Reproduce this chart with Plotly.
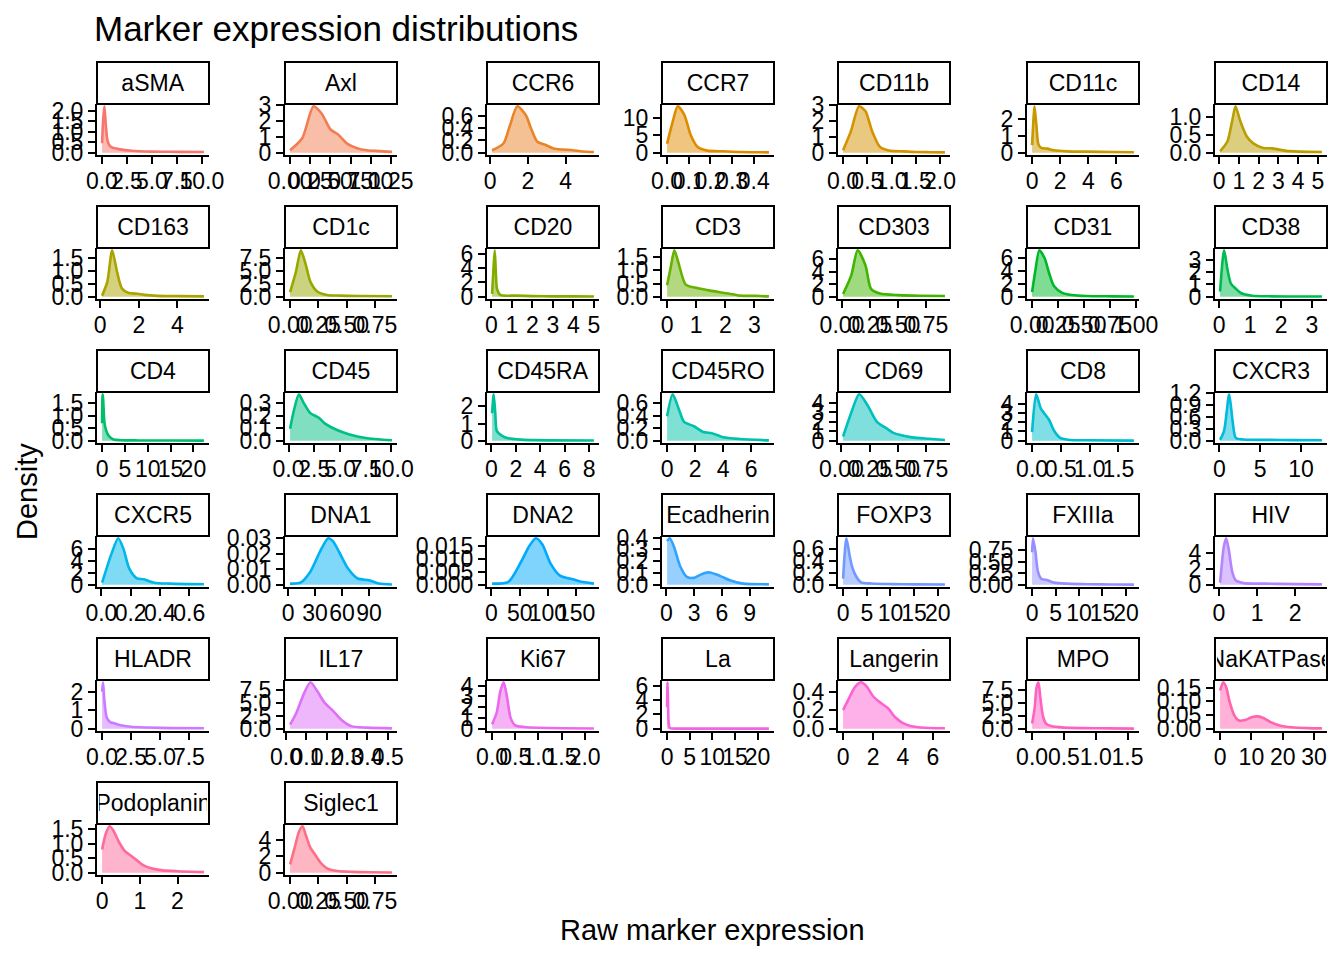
import math
import plotly.graph_objects as go

# ---------------- data ----------------
markers = ["aSMA", "Axl", "CCR6", "CCR7", "CD11b", "CD11c", "CD14",
           "CD163", "CD1c", "CD20", "CD3", "CD303", "CD31", "CD38",
           "CD4", "CD45", "CD45RA", "CD45RO", "CD69", "CD8", "CXCR3",
           "CXCR5", "DNA1", "DNA2", "Ecadherin", "FOXP3", "FXIIIa", "HIV",
           "HLADR", "IL17", "Ki67", "La", "Langerin", "MPO", "NaKATPase",
           "Podoplanin", "Siglec1"]

x_aSMA = [0.02, 0.12, 0.25, 0.38, 0.55, 0.75, 1.0, 1.7, 3.0, 5.0, 7.5, 10.2]
d_aSMA = [0.45, 1.5, 2.2, 1.4, 0.6, 0.35, 0.25, 0.17, 0.09, 0.05, 0.04, 0.03]
xt_aSMA = ["0.0", "2.5", "5.0", "7.5", "10.0"]
yt_aSMA = ["0.0", "0.5", "1.0", "1.5", "2.0"]

x_Axl = [0.0, 0.15, 0.29, 0.39, 0.5, 0.59, 0.71, 0.83, 0.95, 1.1, 1.26]
d_Axl = [0.15, 0.9, 2.9, 2.45, 1.45, 1.15, 0.55, 0.28, 0.15, 0.1, 0.05]
xt_Axl = ["0.00", "0.25", "0.50", "0.75", "1.00", "1.25"]
yt_Axl = ["0", "1", "2", "3"]

x_CCR6 = [0.1, 0.7, 1.04, 1.44, 1.9, 2.15, 2.5, 2.92, 3.35, 4.37, 4.9, 5.5]
d_CCR6 = [0.04, 0.15, 0.44, 0.76, 0.61, 0.41, 0.18, 0.13, 0.07, 0.04, 0.02, 0.01]
xt_CCR6 = ["0", "2", "4"]
yt_CCR6 = ["0.0", "0.2", "0.4", "0.6"]

x_CCR7 = [0.0, 0.026, 0.049, 0.079, 0.109, 0.14, 0.185, 0.26, 0.34, 0.47]
d_CCR7 = [2.6, 9.0, 13.4, 11.0, 5.1, 1.7, 0.6, 0.4, 0.2, 0.1]
xt_CCR7 = ["0.0", "0.1", "0.2", "0.3", "0.4"]
yt_CCR7 = ["0", "5", "10"]

x_CD11b = [0.0, 0.16, 0.33, 0.46, 0.6, 0.76, 0.92, 1.05, 1.25, 1.5, 1.8, 2.1]
d_CD11b = [0.15, 1.33, 2.9, 2.6, 1.33, 0.36, 0.15, 0.1, 0.08, 0.04, 0.03, 0.02]
xt_CD11b = ["0.0", "0.5", "1.0", "1.5", "2.0"]
yt_CD11b = ["0", "1", "2", "3"]

x_CD11c = [0.0, 0.1, 0.17, 0.3, 0.45, 0.65, 1.1, 1.56, 2.5, 3.9, 5.75, 7.25]
d_CD11c = [0.45, 2.0, 2.75, 1.7, 0.5, 0.28, 0.24, 0.14, 0.08, 0.06, 0.04, 0.03]
xt_CD11c = ["0", "2", "4", "6"]
yt_CD11c = ["0", "1", "2"]

x_CD14 = [0.05, 0.42, 0.66, 0.83, 1.07, 1.4, 1.73, 2.23, 2.7, 3.39, 4.05, 5.2]
d_CD14 = [0.04, 0.31, 0.88, 1.29, 0.88, 0.45, 0.26, 0.13, 0.12, 0.05, 0.03, 0.02]
xt_CD14 = ["0", "1", "2", "3", "4", "5"]
yt_CD14 = ["0.0", "0.5", "1.0"]

x_CD163 = [0.1, 0.37, 0.62, 0.87, 1.12, 1.45, 1.95, 2.28, 2.95, 3.95, 5.37]
d_CD163 = [0.04, 0.57, 1.79, 0.97, 0.33, 0.15, 0.11, 0.07, 0.03, 0.02, 0.01]
xt_CD163 = ["0", "2", "4"]
yt_CD163 = ["0.0", "0.5", "1.0", "1.5"]

x_CD1c = [0.0, 0.052, 0.095, 0.138, 0.18, 0.24, 0.325, 0.44, 0.61, 0.9]
d_CD1c = [0.86, 4.8, 8.9, 6.2, 2.85, 1.0, 0.33, 0.2, 0.13, 0.07]
xt_CD1c = ["0.00", "0.25", "0.50", "0.75"]
yt_CD1c = ["0.0", "2.5", "5.0", "7.5"]

x_CD20 = [0.03, 0.1, 0.16, 0.22, 0.27, 0.43, 1.2, 2.0, 3.0, 4.0, 5.0]
d_CD20 = [0.4, 4.0, 6.5, 3.0, 1.1, 0.24, 0.15, 0.08, 0.05, 0.04, 0.03]
xt_CD20 = ["0", "1", "2", "3", "4", "5"]
yt_CD20 = ["0", "2", "4", "6"]

x_CD3 = [0.0, 0.13, 0.25, 0.41, 0.64, 1.03, 1.48, 2.04, 2.5, 3.05, 3.5]
d_CD3 = [0.43, 1.15, 1.76, 1.21, 0.46, 0.33, 0.23, 0.13, 0.04, 0.03, 0.01]
xt_CD3 = ["0", "1", "2", "3"]
yt_CD3 = ["0.0", "0.5", "1.0", "1.5"]

x_CD303 = [0.01, 0.083, 0.14, 0.21, 0.26, 0.34, 0.51, 0.69, 0.92]
d_CD303 = [0.43, 3.4, 7.4, 5.0, 1.24, 0.5, 0.25, 0.15, 0.1]
xt_CD303 = ["0.00", "0.25", "0.50", "0.75"]
yt_CD303 = ["0", "2", "4", "6"]

x_CD31 = [0.0, 0.03, 0.07, 0.12, 0.165, 0.21, 0.29, 0.38, 0.52, 0.77, 0.98]
d_CD31 = [0.7, 3.9, 7.2, 6.0, 3.6, 1.65, 0.6, 0.27, 0.1, 0.05, 0.02]
xt_CD31 = ["0.00", "0.25", "0.50", "0.75", "1.00"]
yt_CD31 = ["0", "2", "4", "6"]

x_CD38 = [0.03, 0.16, 0.27, 0.38, 0.54, 0.7, 1.07, 1.6, 3.32]
d_CD38 = [0.42, 3.75, 2.17, 1.06, 0.64, 0.3, 0.08, 0.03, 0.01]
xt_CD38 = ["0", "1", "2", "3"]
yt_CD38 = ["0", "1", "2", "3"]

x_CD4 = [0.0, 0.1, 0.25, 0.5, 0.9, 1.5, 2.5, 4.0, 8.0, 15.0, 22.3]
d_CD4 = [0.7, 1.85, 1.6, 0.75, 0.4, 0.18, 0.05, 0.02, 0.01, 0.005, 0.002]
xt_CD4 = ["0", "5", "10", "15", "20"]
yt_CD4 = ["0.0", "0.5", "1.0", "1.5"]

x_CD45 = [0.15, 0.53, 1.01, 1.48, 2.12, 2.91, 3.55, 4.66, 5.93, 7.5, 10.05]
d_CD45 = [0.095, 0.245, 0.37, 0.3, 0.22, 0.185, 0.136, 0.087, 0.05, 0.022, 0.003]
xt_CD45 = ["0.0", "2.5", "5.0", "7.5", "10.0"]
yt_CD45 = ["0.0", "0.1", "0.2", "0.3"]

x_CD45RA = [0.06, 0.19, 0.32, 0.45, 0.85, 1.38, 2.44, 3.6, 8.4]
d_CD45RA = [1.6, 2.7, 1.6, 0.56, 0.3, 0.14, 0.06, 0.03, 0.01]
xt_CD45RA = ["0", "2", "4", "6", "8"]
yt_CD45RA = ["0", "1", "2"]

x_CD45RO = [0.0, 0.4, 0.86, 1.21, 1.91, 2.6, 3.2, 4.0, 5.17, 7.27]
d_CD45RO = [0.39, 0.74, 0.49, 0.3, 0.23, 0.137, 0.12, 0.055, 0.027, 0.005]
xt_CD45RO = ["0", "2", "4", "6"]
yt_CD45RO = ["0.0", "0.2", "0.4", "0.6"]

x_CD69 = [0.015, 0.086, 0.158, 0.23, 0.316, 0.414, 0.457, 0.63, 0.78, 0.92]
d_CD69 = [0.44, 2.9, 4.9, 3.8, 2.0, 1.2, 0.85, 0.35, 0.2, 0.07]
xt_CD69 = ["0.00", "0.25", "0.50", "0.75"]
yt_CD69 = ["0", "1", "2", "3", "4"]

x_CD8 = [0.0, 0.07, 0.15, 0.21, 0.3, 0.38, 0.49, 0.66, 0.95, 1.77]
d_CD8 = [0.93, 5.0, 3.5, 2.96, 2.2, 1.1, 0.3, 0.07, 0.04, 0.01]
xt_CD8 = ["0.0", "0.5", "1.0", "1.5"]
yt_CD8 = ["0", "1", "2", "3", "4"]

x_CXCR3 = [0.1, 0.6, 1.21, 1.62, 2.02, 3.0, 6.0, 9.0, 12.55]
d_CXCR3 = [0.02, 0.26, 1.16, 0.51, 0.07, 0.03, 0.02, 0.015, 0.01]
xt_CXCR3 = ["0", "5", "10"]
yt_CXCR3 = ["0.0", "0.3", "0.6", "0.9", "1.2"]

x_CXCR5 = [0.005, 0.07, 0.115, 0.15, 0.19, 0.24, 0.29, 0.36, 0.47, 0.7]
d_CXCR5 = [0.33, 5.2, 7.7, 6.0, 2.7, 1.1, 0.9, 0.33, 0.17, 0.06]
xt_CXCR5 = ["0.0", "0.2", "0.4", "0.6"]
yt_CXCR5 = ["0", "2", "4", "6"]

x_DNA1 = [2.2, 13.8, 24.7, 35.6, 44.6, 50.0, 57.3, 66.4, 77.3, 90.0, 100.9, 115.4]
d_DNA1 = [0.0007, 0.0013, 0.0084, 0.0216, 0.03, 0.028, 0.0205, 0.0106, 0.004, 0.0029, 0.0007, 0.0001]
xt_DNA1 = ["0", "30", "60", "90"]
yt_DNA1 = ["0.00", "0.01", "0.02", "0.03"]

x_DNA2 = [1.2, 29.9, 52.7, 67.0, 78.5, 89.9, 104.2, 121.3, 144.1, 155.6, 181.3]
d_DNA2 = [0.0004, 0.0011, 0.009, 0.015, 0.018, 0.0157, 0.0084, 0.0035, 0.0021, 0.0013, 0.0004]
xt_DNA2 = ["0", "50", "100", "150"]
yt_DNA2 = ["0.000", "0.005", "0.010", "0.015"]

x_Ecadherin = [0.07, 0.35, 0.78, 1.5, 2.2, 2.93, 4.0, 4.7, 5.8, 6.86, 8.3, 11.1]
d_Ecadherin = [0.37, 0.394, 0.33, 0.154, 0.067, 0.058, 0.096, 0.104, 0.075, 0.038, 0.009, 0.003]
xt_Ecadherin = ["0", "3", "6", "9"]
yt_Ecadherin = ["0.0", "0.1", "0.2", "0.3", "0.4"]

x_FOXP3 = [0.0, 0.7, 1.37, 1.86, 2.74, 3.77, 6.0, 10.0, 15.0, 21.5]
d_FOXP3 = [0.1, 0.77, 0.49, 0.31, 0.14, 0.04, 0.02, 0.01, 0.005, 0.003]
xt_FOXP3 = ["0", "5", "10", "15", "20"]
yt_FOXP3 = ["0.0", "0.2", "0.4", "0.6"]

x_FXIIIa = [0.0, 0.2, 0.7, 1.25, 1.94, 3.3, 4.7, 7.5, 12.0, 17.0, 21.7]
d_FXIIIa = [0.7, 1.0, 0.72, 0.28, 0.13, 0.095, 0.044, 0.022, 0.01, 0.005, 0.002]
xt_FXIIIa = ["0", "5", "10", "15", "20"]
yt_FXIIIa = ["0.00", "0.25", "0.50", "0.75"]

x_HIV = [0.03, 0.13, 0.19, 0.26, 0.35, 0.44, 0.65, 1.17, 2.0, 2.7]
d_HIV = [0.26, 4.9, 5.9, 4.4, 1.6, 0.56, 0.2, 0.13, 0.07, 0.04]
xt_HIV = ["0", "1", "2"]
yt_HIV = ["0", "2", "4"]

x_HLADR = [0.0, 0.08, 0.2, 0.4, 0.7, 1.0, 1.5, 2.5, 4.0, 6.0, 8.8]
d_HLADR = [2.0, 2.5, 1.5, 0.6, 0.35, 0.3, 0.2, 0.1, 0.06, 0.03, 0.02]
xt_HLADR = ["0.0", "2.5", "5.0", "7.5"]
yt_HLADR = ["0", "1", "2"]

x_IL17 = [0.02, 0.05, 0.09, 0.12, 0.15, 0.19, 0.23, 0.27, 0.32, 0.4, 0.52]
d_IL17 = [0.8, 3.0, 7.0, 9.0, 7.5, 5.0, 3.5, 1.8, 0.5, 0.2, 0.05]
xt_IL17 = ["0.0", "0.1", "0.2", "0.3", "0.4", "0.5"]
yt_IL17 = ["0.0", "2.5", "5.0", "7.5"]

x_Ki67 = [0.0, 0.1, 0.18, 0.25, 0.32, 0.4, 0.5, 0.7, 1.0, 1.5, 2.2]
d_Ki67 = [0.4, 1.5, 3.5, 4.3, 3.0, 1.0, 0.3, 0.15, 0.08, 0.04, 0.02]
xt_Ki67 = ["0.0", "0.5", "1.0", "1.5", "2.0"]
yt_Ki67 = ["0", "1", "2", "3", "4"]

x_La = [0.0, 0.1, 0.2, 0.35, 0.6, 1.0, 3.0, 10.0, 16.0, 22.5]
d_La = [3.0, 6.5, 4.0, 0.8, 0.1, 0.03, 0.01, 0.005, 0.003, 0.002]
xt_La = ["0", "5", "10", "15", "20"]
yt_La = ["0", "2", "4", "6"]

x_Langerin = [0.0, 0.4, 0.8, 1.2, 1.6, 2.0, 2.5, 3.0, 3.5, 4.0, 4.5, 5.5, 6.8]
d_Langerin = [0.2, 0.33, 0.45, 0.5, 0.45, 0.35, 0.28, 0.22, 0.12, 0.06, 0.03, 0.01, 0.005]
xt_Langerin = ["0", "2", "4", "6"]
yt_Langerin = ["0.0", "0.2", "0.4"]

x_MPO = [0.0, 0.04, 0.07, 0.1, 0.13, 0.17, 0.22, 0.3, 0.5, 0.8, 1.2, 1.6]
d_MPO = [1.0, 4.0, 8.0, 9.0, 6.0, 2.5, 1.0, 0.5, 0.2, 0.1, 0.05, 0.02]
xt_MPO = ["0.0", "0.5", "1.0", "1.5"]
yt_MPO = ["0.0", "2.5", "5.0", "7.5"]

x_NaKATPase = [0.0, 1.0, 2.0, 3.0, 4.5, 6.0, 8.0, 10.0, 12.0, 14.0, 16.0, 19.0, 23.0, 28.0, 32.5]
d_NaKATPase = [0.14, 0.17, 0.15, 0.1, 0.05, 0.03, 0.032, 0.042, 0.045, 0.038, 0.025, 0.012, 0.005, 0.002, 0.001]
xt_NaKATPase = ["0", "10", "20", "30"]
yt_NaKATPase = ["0.00", "0.05", "0.10", "0.15"]

x_Podoplanin = [0.0, 0.1, 0.2, 0.3, 0.45, 0.6, 0.75, 0.9, 1.1, 1.3, 1.6, 2.0, 2.7]
d_Podoplanin = [0.8, 1.35, 1.6, 1.45, 1.05, 0.75, 0.6, 0.45, 0.25, 0.15, 0.08, 0.05, 0.02]
xt_Podoplanin = ["0", "1", "2"]
yt_Podoplanin = ["0.0", "0.5", "1.0", "1.5"]

x_Siglec1 = [0.0, 0.04, 0.08, 0.11, 0.14, 0.18, 0.22, 0.27, 0.33, 0.42, 0.55, 0.7, 0.9]
d_Siglec1 = [1.0, 3.0, 5.0, 5.6, 4.5, 3.0, 2.2, 1.2, 0.5, 0.2, 0.1, 0.05, 0.02]
xt_Siglec1 = ["0.00", "0.25", "0.50", "0.75"]
yt_Siglec1 = ["0", "2", "4"]

g = globals()
panels = [(m, g["x_" + m], g["d_" + m], g["xt_" + m], g["yt_" + m]) for m in markers]

# ---------------- styling ----------------
W, H = 1344, 960
OFF = 8  # page body margin offset in the browser
FONT = "Liberation Sans, Arial, Helvetica, sans-serif"
COL_LEFT = [97, 285, 487, 662, 838, 1027, 1215]
PW = 112
ROW_PITCH = 144
STRIP_TOP0, STRIP_H, PLOT_BOT0 = 62, 42, 155


def hue_colors(n, c=100.0, l=65.0):
    """ggplot2 default hue palette (HCL, polarLUV) -> sRGB."""
    Xn, Yn, Zn = 95.047, 100.0, 108.883
    den = Xn + 15 * Yn + 3 * Zn
    un, vn = 4 * Xn / den, 9 * Yn / den
    out = []
    for i in range(n):
        h = 15 + 360.0 * i / n
        hr = math.radians(h)
        u, v = c * math.cos(hr), c * math.sin(hr)
        Y = Yn * ((l + 16) / 116.0) ** 3
        up, vp = u / (13 * l) + un, v / (13 * l) + vn
        X = 9.0 * Y * up / (4 * vp)
        Z = -X / 3 - 5 * Y + 3 * Y / vp
        X, Y, Z = X / 100, Y / 100, Z / 100
        rgb = [3.240479 * X - 1.537150 * Y - 0.498535 * Z,
               -0.969256 * X + 1.875992 * Y + 0.041556 * Z,
               0.055648 * X - 0.204043 * Y + 1.057311 * Z]
        res = []
        for ch in rgb:
            ch = 12.92 * ch if ch <= 0.0031308 else 1.055 * ch ** (1 / 2.4) - 0.055
            res.append(int(round(min(max(ch, 0.0), 1.0) * 255)))
        out.append(tuple(res))
    return out


colors = hue_colors(len(markers))


def fx(p):
    return (p - OFF) / W


def fy(p):
    return 1 - (p - OFF) / H


fig = go.Figure()
layout = dict(width=W, height=H,
              margin=dict(l=0, r=0, t=0, b=0, pad=0, autoexpand=False),
              paper_bgcolor="white", plot_bgcolor="white", showlegend=False,
              font=dict(family=FONT, color="black"))
shapes, annotations = [], []

for i, (name, xs, ds, xt, yt) in enumerate(panels):
    r, c = divmod(i, 7)
    k = i + 1
    xa = "x" if k == 1 else f"x{k}"
    ya = "y" if k == 1 else f"y{k}"
    rgb = colors[i]
    fig.add_trace(go.Scatter(
        x=xs, y=ds, xaxis=xa, yaxis=ya, mode="lines",
        line=dict(color="rgb(%d,%d,%d)" % rgb, width=2.6, shape="spline", smoothing=0.7),
        fill="tozeroy", fillcolor="rgba(%d,%d,%d,0.5)" % rgb,
        hoverinfo="skip"))

    left = COL_LEFT[c]
    s_top = STRIP_TOP0 + ROW_PITCH * r
    p_top = s_top + STRIP_H
    p_bot = PLOT_BOT0 + ROW_PITCH * r

    xmin, xmax = min(xs), max(xs)
    R = xmax - xmin
    ymax = max(ds)
    common = dict(showline=True, linecolor="black", linewidth=2,
                  ticks="outside", ticklen=7, tickwidth=2, tickcolor="black",
                  showgrid=False, zeroline=False, tickmode="array",
                  tickfont=dict(size=23, color="black", family=FONT),
                  ticklabeloverflow="allow", tickangle=0, fixedrange=True,
                  automargin=False)
    layout["xaxis" if k == 1 else f"xaxis{k}"] = dict(
        domain=[fx(left), fx(left + PW)], anchor=ya,
        range=[xmin - 0.05 * R, xmax + 0.05 * R],
        tickvals=[float(t) for t in xt], ticktext=xt,
        ticklabelstandoff=-3, **common)
    layout["yaxis" if k == 1 else f"yaxis{k}"] = dict(
        domain=[fy(p_bot), fy(p_top)], anchor=xa,
        range=[-0.05 * ymax, 1.05 * ymax],
        tickvals=[float(t) for t in yt], ticktext=yt, **common)

    # facet strip
    shapes.append(dict(type="rect", xref="paper", yref="paper",
                       x0=fx(left), x1=fx(left + PW), y0=fy(p_top), y1=fy(s_top),
                       line=dict(color="black", width=2), fillcolor="white",
                       layer="above"))
    annotations.append(dict(text=name, xref="paper", yref="paper",
                            x=fx(left + PW / 2), y=fy(s_top + STRIP_H / 2),
                            xanchor="center", yanchor="middle", showarrow=False,
                            width=PW - 4, align="center",
                            font=dict(size=23, color="black", family=FONT)))

annotations.append(dict(text="Marker expression distributions", xref="paper", yref="paper",
                        x=fx(92), y=fy(29), xanchor="left", yanchor="middle",
                        showarrow=False, font=dict(size=35, color="black", family=FONT)))
annotations.append(dict(text="Raw marker expression", xref="paper", yref="paper",
                        x=fx(712), y=fy(930), xanchor="center", yanchor="middle",
                        showarrow=False, font=dict(size=29, color="black", family=FONT)))
annotations.append(dict(text="Density", xref="paper", yref="paper",
                        x=fx(27), y=fy(492), xanchor="center", yanchor="middle",
                        textangle=-90, showarrow=False,
                        font=dict(size=29, color="black", family=FONT)))

layout["shapes"] = shapes
layout["annotations"] = annotations
fig.update_layout(**layout)
fig.write_html("out.html")
